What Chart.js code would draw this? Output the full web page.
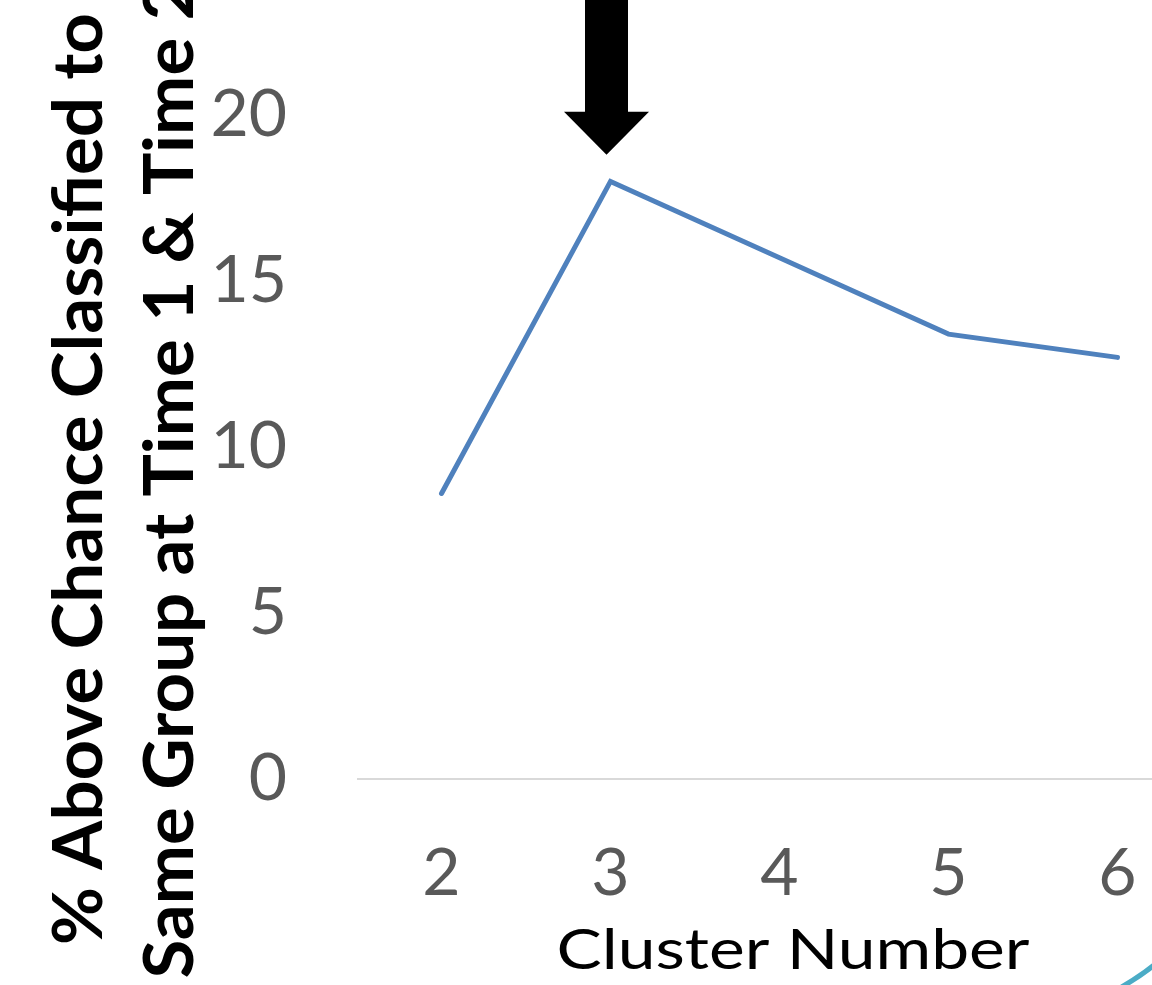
<!DOCTYPE html>
<html>
<head>
<meta charset="utf-8">
<script src="https://cdn.jsdelivr.net/npm/chart.js@4/dist/chart.umd.min.js"></script>
<style>
  html, body { margin: 0; padding: 0; background: #ffffff; overflow: hidden; width: 1152px; height: 985px; }
  #wrap { position: absolute; left: 0; top: -100px; width: 1202px; height: 1085px; }
</style>
</head>
<body>
<div id="wrap"><canvas id="c"></canvas></div>
<script>
// ---- data ----
const categories = ['2', '3', '4', '5', '6'];
const aboveChance = [8.6, 18.0, 15.7, 13.4, 12.7];
const yMin = 0;
const yMax = 25;
const yStep = 5;
const xTitle = 'Cluster Number';
const yTitleLines = ['% Above Chance Classified to', 'Same Group at Time 1 & Time 2'];
const arrowCategory = '3';
const arrowTipValue = 18.8;

const OFFSET_TOP = 100; // canvas shifted up by this many px

function fitText(ctx, text, x, y, targetWidth) {
  const w = ctx.measureText(text).width;
  const s = targetWidth / w;
  ctx.save();
  ctx.translate(x, y);
  ctx.scale(s, 1);
  ctx.fillText(text, 0, 0);
  ctx.restore();
}

const overlayPlugin = {
  id: 'overlay',
  afterDraw(chart) {
    const ctx = chart.ctx;
    const xs = chart.scales.x, ys = chart.scales.y;
    ctx.save();
    // arrow annotation
    const ax = xs.getPixelForValue(categories.indexOf(arrowCategory)) - 4;
    const ay = ys.getPixelForValue(arrowTipValue);
    ctx.fillStyle = '#000000';
    ctx.beginPath();
    ctx.moveTo(ax, ay);
    ctx.lineTo(ax - 42.5, ay - 43);
    ctx.lineTo(ax - 21.5, ay - 43);
    ctx.lineTo(ax - 21.5, -10);
    ctx.lineTo(ax + 21.5, -10);
    ctx.lineTo(ax + 21.5, ay - 43);
    ctx.lineTo(ax + 42.5, ay - 43);
    ctx.closePath();
    ctx.fill();

    // teal ellipse fragment bottom-right
    ctx.strokeStyle = '#4bacc6';
    ctx.lineWidth = 5;
    ctx.beginPath();
    ctx.moveTo(1108, 1094);
    ctx.quadraticCurveTo(1138, 1080, 1170, 1052);
    ctx.stroke();

    // y-axis title (two centred lines, rotated)
    ctx.fillStyle = '#000000';
    ctx.font = 'bold 68px Lato';
    ctx.textAlign = 'center';
    ctx.textBaseline = 'alphabetic';
    const cy = 479 + OFFSET_TOP;
    const baseXs = [102, 193];
    const s1 = 932 / ctx.measureText(yTitleLines[0]).width;
    yTitleLines.forEach((t, i) => {
      ctx.save();
      ctx.translate(baseXs[i], cy);
      ctx.rotate(-Math.PI / 2);
      ctx.scale(s1, 1);
      ctx.fillText(t, 0, 0);
      ctx.restore();
    });

    // x-axis title
    ctx.font = '57px Lato';
    ctx.textAlign = 'center';
    fitText(ctx, xTitle, 793, 969 + OFFSET_TOP, 473);
    ctx.restore();
  }
};

new Chart(document.getElementById('c'), {
  type: 'line',
  data: {
    labels: categories,
    datasets: [{
      label: '% Above Chance',
      data: aboveChance,
      borderColor: '#4f81bd',
      backgroundColor: '#4f81bd',
      borderWidth: 5,
      pointRadius: 0,
      tension: 0,
      borderCapStyle: 'round',
      borderJoinStyle: 'miter',
      fill: false
    }]
  },
  options: {
    responsive: true,
    maintainAspectRatio: false,
    animation: false,
    layout: { padding: { top: 49, left: 0, right: 0, bottom: 0 } },
    plugins: { legend: { display: false }, tooltip: { enabled: false } },
    scales: {
      x: {
        type: 'category',
        offset: true,
        grid: { display: false, drawTicks: false },
        border: { display: false },
        ticks: { color: '#595959', font: { family: 'Lato', size: 66 }, padding: 55, maxRotation: 0 },
        title: { display: false },
        afterFit(scale) { scale.height = 206; scale.paddingLeft = 0; scale.paddingRight = 0; }
      },
      y: {
        min: yMin,
        max: yMax,
        grid: {
          drawTicks: false,
          lineWidth: 2,
          color: (c) => (c.tick && c.tick.value === 0 ? '#d9d9d9' : 'rgba(0,0,0,0)')
        },
        border: { display: false },
        ticks: { stepSize: yStep, color: '#595959', font: { family: 'Lato', size: 66 }, padding: 70 },
        title: { display: false },
        afterFit(scale) { scale.width = 357; scale.paddingTop = 0; scale.paddingBottom = 0; }
      }
    }
  },
  plugins: [overlayPlugin]
});
</script>
</body>
</html>
